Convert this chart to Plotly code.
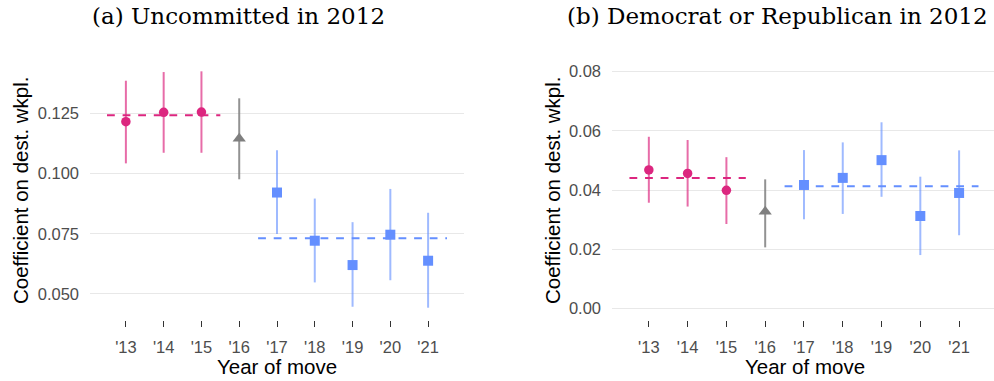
import plotly.graph_objects as go

# ---------------- data ----------------
years = [13, 14, 15, 16, 17, 18, 19, 20, 21]
year_labels = ["'13", "'14", "'15", "'16", "'17", "'18", "'19", "'20", "'21"]

# (a) Uncommitted in 2012
a_est = [0.1215, 0.1254, 0.1255, 0.1145, 0.0921, 0.0721, 0.0620, 0.0746, 0.0638]
a_lo = [0.1042, 0.1086, 0.1086, 0.0976, 0.0749, 0.0548, 0.0447, 0.0557, 0.0443]
a_hi = [0.1385, 0.1421, 0.1424, 0.1312, 0.1096, 0.0896, 0.0798, 0.0936, 0.0837]
a_pre_mean = 0.1242
a_post_mean = 0.0731

# (b) Democrat or Republican in 2012
b_est = [0.0468, 0.0456, 0.0399, 0.0327, 0.0417, 0.0441, 0.0501, 0.0312, 0.0390]
b_lo = [0.0357, 0.0344, 0.0285, 0.0206, 0.0301, 0.0319, 0.0377, 0.0180, 0.0247]
b_hi = [0.0580, 0.0569, 0.0511, 0.0436, 0.0535, 0.0561, 0.0629, 0.0445, 0.0534]
b_pre_mean = 0.0441
b_post_mean = 0.0413

titles = ["(a) Uncommitted in 2012", "(b) Democrat or Republican in 2012"]
x_title = "Year of move"
y_title = "Coefficient on dest. wkpl."
a_yticks = [0.050, 0.075, 0.100, 0.125]
a_yticklabels = ["0.050", "0.075", "0.100", "0.125"]
b_yticks = [0.00, 0.02, 0.04, 0.06, 0.08]
b_yticklabels = ["0.00", "0.02", "0.04", "0.06", "0.08"]

pre_years = [13, 14, 15]
ref_year = [16]
post_years = [17, 18, 19, 20, 21]
pre_span = [12.5, 15.5]
post_span = [16.5, 21.5]

# ---------------- style ----------------
PINK = "#DC267F"
BLUE = "#648FFF"
GREY = "#7F7F7F"
PINK_BAR = "rgba(220,38,127,0.68)"
BLUE_BAR = "rgba(100,143,255,0.62)"
GREY_BAR = "rgba(127,127,127,0.85)"
SANS = "Liberation Sans, Arial, sans-serif"
SERIF = "DejaVu Serif, serif"

W, H = 994, 381

fig = go.Figure()


def add_panel(est, lo, hi, pre_mean, post_mean, xa, ya):
    # dashed mean lines
    fig.add_trace(go.Scatter(x=pre_span, y=[pre_mean, pre_mean], mode="lines",
                             line=dict(color=PINK, width=2, dash="7.8px,7.8px"),
                             xaxis=xa, yaxis=ya, showlegend=False, hoverinfo="skip"))
    fig.add_trace(go.Scatter(x=post_span, y=[post_mean, post_mean], mode="lines",
                             line=dict(color=BLUE, width=2, dash="7.8px,7.8px"),
                             xaxis=xa, yaxis=ya, showlegend=False, hoverinfo="skip"))
    groups = [
        (pre_years, PINK, PINK_BAR, "circle", 9.5),
        (ref_year, GREY, GREY_BAR, "triangle-up", 11.5),
        (post_years, BLUE, BLUE_BAR, "square", 10),
    ]
    for yrs, col, barcol, sym, sz in groups:
        idx = [years.index(y) for y in yrs]
        e = [est[i] for i in idx]
        up = [hi[i] - est[i] for i in idx]
        dn = [est[i] - lo[i] for i in idx]
        fig.add_trace(go.Scatter(
            x=yrs, y=e, mode="markers",
            marker=dict(color=col, symbol=sym, size=sz, line=dict(width=0)),
            error_y=dict(type="data", symmetric=False, array=up, arrayminus=dn,
                         color=barcol, thickness=2, width=0),
            xaxis=xa, yaxis=ya, showlegend=False))


add_panel(a_est, a_lo, a_hi, a_pre_mean, a_post_mean, "x", "y")
add_panel(b_est, b_lo, b_hi, b_pre_mean, b_post_mean, "x2", "y2")

ydom = [61 / H, 321 / H]

xcommon = dict(tickmode="array", tickvals=years, ticktext=year_labels,
               ticks="outside", ticklen=6, tickwidth=1, tickcolor="#333333",
               showgrid=False, zeroline=False, showline=False,
               tickfont=dict(family=SANS, size=16.5, color="#4D4D4D"),
               ticklabelstandoff=6)
ycommon = dict(tickmode="array", showgrid=True, gridcolor="#E8E8E8", gridwidth=1.4,
               zeroline=False, showline=False, ticks="",
               tickfont=dict(family=SANS, size=16.5, color="#4D4D4D"),
               ticklabelstandoff=10)

fig.update_layout(
    width=W, height=H,
    margin=dict(l=0, r=0, t=0, b=0),
    paper_bgcolor="white", plot_bgcolor="white",
    showlegend=False,
    xaxis=dict(domain=[90 / W, 464 / W], range=[12.05, 21.95], anchor="y", **xcommon),
    yaxis=dict(domain=ydom, range=[0.0392, 0.1471], anchor="x",
               tickvals=a_yticks, ticktext=a_yticklabels, **ycommon),
    xaxis2=dict(domain=[612 / W, 1.0], range=[12.05, 21.9], anchor="y2", **xcommon),
    yaxis2=dict(domain=ydom, range=[-0.00396, 0.08396], anchor="x2",
                tickvals=b_yticks, ticktext=b_yticklabels, **ycommon),
)


def ann(text, px, py, size, family, color="black", angle=0):
    fig.add_annotation(text=text, xref="paper", yref="paper",
                       x=px / W, y=1 - py / H, xanchor="center", yanchor="middle",
                       showarrow=False, textangle=angle,
                       font=dict(family=family, size=size, color=color))


ann(titles[0], 238, 16, 23, SERIF)
ann(titles[1], 777, 16, 23, SERIF)
ann(x_title, 277, 366, 20.5, SANS)
ann(x_title, 805, 366, 20.5, SANS)
ann(y_title, 20, 190, 20.5, SANS, angle=-90)
ann(y_title, 552, 190, 20.5, SANS, angle=-90)

fig.write_html("out.html")
